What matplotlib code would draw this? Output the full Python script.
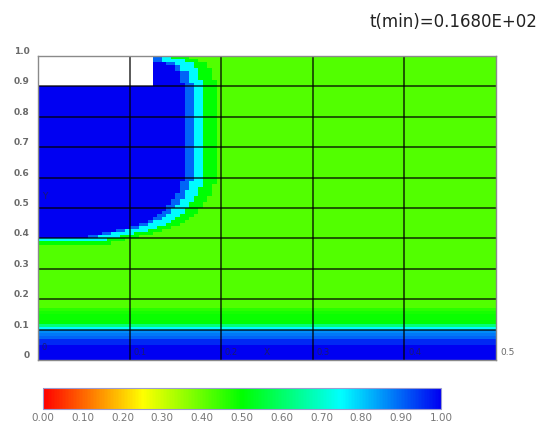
import numpy as np
import matplotlib
matplotlib.use("Agg")
import matplotlib.pyplot as plt
import matplotlib.colors as mcolors
from matplotlib import font_manager

# Volume fraction snapshot at t = 16.8 min on a 0.5 x 1.0 domain
TITLE = "t(min)=0.1680E+02"
NX, NY = 100, 100
X_MAX, Y_MAX = 0.5, 1.0

# Background fraction above the bottom layer
FILL_VALUE = 0.42

# Bottom layer, one value per row starting at y = 0
BOTTOM_LAYER = [1.0, 1.0, 1.0, 1.0, 1.0, 0.96, 0.96, 0.9, 0.88, 0.86,
                0.75, 0.62, 0.5, 0.49, 0.49, 0.48, 0.46]

# Right edge (x) of the full column in each row, rows 40..99
BLOB_FIRST_ROW = 40
BLOB_EDGE_X = [0.055, 0.07, 0.085, 0.10, 0.11, 0.118, 0.125, 0.13, 0.135, 0.138,
               0.142, 0.145, 0.147, 0.15, 0.152, 0.153, 0.155, 0.156, 0.157, 0.16,
               0.16, 0.16, 0.16, 0.16, 0.16, 0.16, 0.16, 0.16, 0.16, 0.16,
               0.16, 0.16, 0.16, 0.16, 0.16, 0.16, 0.16, 0.16, 0.16, 0.16,
               0.16, 0.16, 0.16, 0.16, 0.16, 0.16, 0.16, 0.16, 0.16, 0.16,
               0.16, 0.155, 0.155, 0.155, 0.155, 0.148, 0.148, 0.14, 0.125, 0.125]

# Smeared front around the column: distance (px) -> fraction
FRONT_DIST = [0, 7, 20, 33]
FRONT_VALUES = [1.0, 0.9, 0.75, 0.5]

# Empty (obstacle) box in the top-left corner
BOX_X, BOX_Y = 0.125, 0.9

Y_TICKS = [0.0, 0.1, 0.2, 0.3, 0.4, 0.5, 0.6, 0.7, 0.8, 0.9, 1.0]
Y_TICK_LABELS = ["0", "0.1", "0.2", "0.3", "0.4", "0.5", "0.6", "0.7", "0.8", "0.9", "1.0"]
X_TICKS = [0.1, 0.2, 0.3, 0.4]
X_TICK_LABELS = ["0.1", "0.2", "0.3", "0.4"]
CBAR_TICKS = [0.0, 0.1, 0.2, 0.3, 0.4, 0.5, 0.6, 0.7, 0.8, 0.9, 1.0]
CBAR_LABELS = ["0.00", "0.10", "0.20", "0.30", "0.40", "0.50",
               "0.60", "0.70", "0.80", "0.90", "1.00"]

cmap = mcolors.LinearSegmentedColormap.from_list(
    "fraction",
    [(0.0, "#ff0000"), (0.25, "#ffff00"), (0.5, "#00ff00"),
     (0.75, "#00ffff"), (1.0, "#0000f2")])


def pick_font(names):
    have = {f.name for f in font_manager.fontManager.ttflist}
    for n in names:
        if n in have:
            return n
    return "DejaVu Sans"


def build_field():
    x_edges = np.linspace(0, X_MAX, NX + 1)
    y_edges = np.linspace(0, Y_MAX, NY + 1)
    xc = 0.5 * (x_edges[:-1] + x_edges[1:])
    yc = 0.5 * (y_edges[:-1] + y_edges[1:])
    X, Y = np.meshgrid(xc, yc)

    field = np.full((NY, NX), FILL_VALUE)
    for j, v in enumerate(BOTTOM_LAYER):
        field[j, :] = v

    # pixel scale of the axes, vertical distance weighted to keep the
    # lower front thin
    px_x, px_y, w_y = 916.0, 303.0, 5.0
    dist = np.full(field.shape, np.inf)
    for k, edge in enumerate(BLOB_EDGE_X):
        j = BLOB_FIRST_ROW + k
        y0, y1 = y_edges[j], y_edges[j + 1]
        ddx = np.clip(X - edge, 0, None) * px_x
        ddy = np.clip(np.maximum(y0 - Y, Y - y1), 0, None) * px_y * w_y
        dist = np.minimum(dist, np.hypot(ddx, ddy))

    idx = np.searchsorted(FRONT_DIST, dist, side="left")
    near = idx < len(FRONT_VALUES)
    field[near] = np.asarray(FRONT_VALUES)[idx[near]]

    field = np.ma.masked_where((X < BOX_X) & (Y > BOX_Y), field)
    return x_edges, y_edges, field


x_edges, y_edges, field = build_field()

fig = plt.figure(figsize=(5.51, 4.29), dpi=100)
ax = fig.add_axes([0.069, 0.1608, 0.8312, 0.7086])
ax.pcolormesh(x_edges, y_edges, field, cmap=cmap, vmin=0, vmax=1,
              shading="flat")
ax.set_xlim(0, X_MAX)
ax.set_ylim(0, Y_MAX)

for x in X_TICKS:
    ax.axvline(x, color="black", lw=1.3, alpha=0.7)
for y in Y_TICKS[1:-1]:
    ax.axhline(y, color="black", lw=1.3, alpha=0.7)
for s in ax.spines.values():
    s.set_color("#8a8a8a")
    s.set_linewidth(1.0)

ax.set_yticks(Y_TICKS)
ax.set_yticklabels(Y_TICK_LABELS)
ax.tick_params(axis="y", length=0, pad=6, labelsize=6.5, labelcolor="#6a6a6a")
for lab in ax.get_yticklabels():
    lab.set_va("bottom")
    lab.set_fontweight("bold")
ax.set_xticks([])

# axis captions sit inside the frame along the bottom
for x, s in zip(X_TICKS, X_TICK_LABELS):
    ax.text(x + 0.004, 0.026, s, fontsize=6, color="#1a1a70",
            ha="left", va="center")
ax.text(0.004, 0.04, "0", fontsize=6, color="#1a1a70", ha="left", va="center")
ax.text(0.25, 0.026, "X", fontsize=6.5, color="#1a1a70", ha="center", va="center")
ax.text(0.004, 0.538, "Y", fontsize=6.5, color="#1a1a70", ha="left", va="center")
ax.text(X_MAX + 0.005, 0.026, "0.5", fontsize=6.5, color="#6a6a6a",
        ha="left", va="center", clip_on=False)

title_font = pick_font(["Liberation Sans Narrow", "DejaVu Sans"])
fig.text(537 / 551, 1 - 22 / 429, TITLE, ha="right", va="center",
         fontsize=15 if title_font != "DejaVu Sans" else 12,
         family=title_font, color="#222222")

cax = fig.add_axes([0.078, 0.0466, 0.7223, 0.049])
sm = plt.cm.ScalarMappable(norm=mcolors.Normalize(0, 1), cmap=cmap)
cb = fig.colorbar(sm, cax=cax, orientation="horizontal")
cb.set_ticks(CBAR_TICKS)
cb.set_ticklabels(CBAR_LABELS)
cb.ax.tick_params(length=0, pad=3, labelsize=7.5, labelcolor="#777777")
cb.outline.set_edgecolor("#9a9ad0")
cb.outline.set_linewidth(0.8)

fig.savefig("out.png", dpi=100)
